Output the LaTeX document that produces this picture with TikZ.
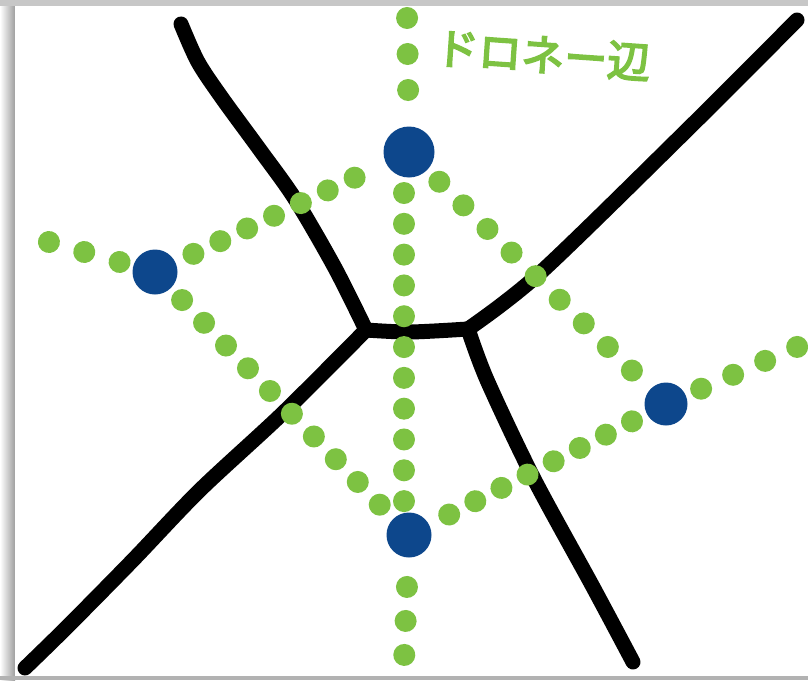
\documentclass[tikz,border=0pt]{standalone}
\usepackage{fontspec}
\newfontfamily\jphand[FakeBold=4]{Noto Sans CJK JP}
\definecolor{dotgreen}{RGB}{125,194,66}
\definecolor{siteblue}{RGB}{13,71,140}
\begin{document}
\begin{tikzpicture}[x=1pt,y=-1pt,
  voronoi/.style={draw=black, line width=15pt, line cap=round, line join=round},
  delaunay/.style={draw=dotgreen, line width=22pt, line cap=round, dash pattern=on 0.01pt off #1},
  site/.style={circle, fill=siteblue, inner sep=0pt, minimum size=#1}
]
\useasboundingbox (0,0) rectangle (808,680);
\fill[white] (0,0) rectangle (808,680);
% background of the slide behind the picture
\fill[black!22] (0,0) rectangle (808,6);
\shade[left color=white, right color=black!38] (0,6) rectangle (15,680);
\fill[black!30] (0,676) rectangle (808,680);
% picture panel
\fill[white] (15,6) rectangle (808,676);

% sites
\coordinate (T) at (409,152);
\coordinate (L) at (155,272);
\coordinate (R) at (666,404);
\coordinate (B) at (409,535);
% free ends of the unbounded Delaunay edges
\coordinate (Ttop) at (407,12);
\coordinate (Bbot) at (404,662);
\coordinate (Lend) at (44,240.6);
\coordinate (Rend) at (801.6,345);
% Voronoi vertices and free ends
\coordinate (VA) at (366,330);
\coordinate (VB) at (468,329);
\coordinate (E1) at (181,24);
\coordinate (E2) at (25,668);
\coordinate (E4) at (797,20);
\coordinate (E5) at (633,662);

% Voronoi edges
\draw[voronoi] plot[smooth, tension=0.5] coordinates {(E1) (198,62) (222,98) (260,150) (295,199) (335,268) (VA)};
\draw[voronoi] plot[smooth, tension=0.5] coordinates {(VA) (283,413) (200,490) (133,560) (67,627) (E2)};
\draw[voronoi] plot[smooth, tension=0.5] coordinates {(VA) (410,332) (VB)};
\draw[voronoi] plot[smooth, tension=0.5] coordinates {(VB) (540,273) (687,130) (E4)};
\draw[voronoi] plot[smooth, tension=0.5] coordinates {(VB) (487,380) (533,477) (593,587) (E5)};

% Delaunay edges
\draw[delaunay=29.7pt, shorten <=42.5pt, shorten >=55pt] (L) -- (T);
\draw[delaunay=33.7pt, shorten <=42.5pt, shorten >=40pt] (T) -- (R);
\draw[delaunay=31.6pt, shorten <=39pt, shorten >=38pt] (L) -- (B);
\draw[delaunay=29.3pt, shorten <=45.1pt, shorten >=33pt] (B) -- (R);
\draw[delaunay=30.8pt, shorten <=41pt, shorten >=30pt] ([xshift=-5pt]T) -- ([xshift=-5pt]B);
\draw[delaunay=36pt, shorten <=62pt] (T) -- (Ttop);
\draw[delaunay=34pt, shorten <=52pt] (B) -- (Bbot);
\draw[delaunay=36.7pt, shorten <=36.8pt] (L) -- (Lend);
\draw[delaunay=34.9pt, shorten <=38.3pt] (R) -- (Rend);

% site dots
\node[site=51pt] (siteT) at (T) {};
\node[site=45pt] (siteL) at (L) {};
\node[site=43pt] (siteR) at (R) {};
\node[site=45pt] (siteB) at (B) {};

% label
\node[font=\jphand\fontsize{43}{43}\selectfont, text=dotgreen, rotate=-4, inner sep=0pt] (label) at (543,55) {ドロネー辺};
\end{tikzpicture}
\end{document}
